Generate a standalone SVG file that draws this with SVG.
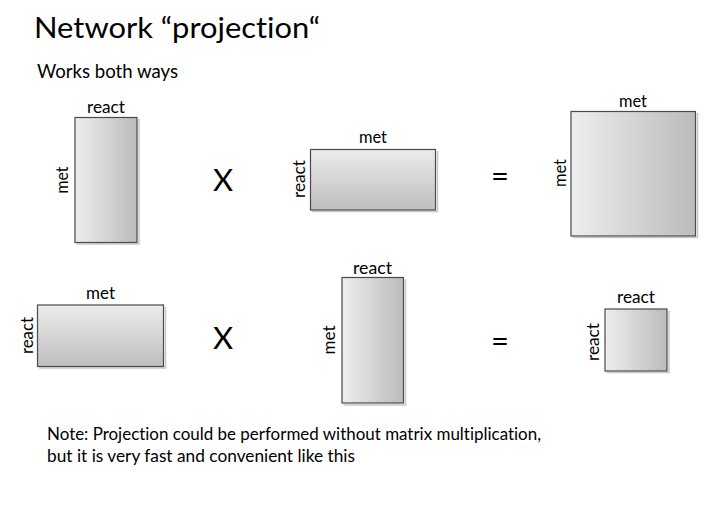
<svg xmlns="http://www.w3.org/2000/svg" width="725" height="513" viewBox="0 0 725 513">
<defs>
<linearGradient id="gh" x1="0" y1="0" x2="1" y2="0">
<stop offset="0" stop-color="#eeeeee"/>
<stop offset="1" stop-color="#bbbbbb"/>
</linearGradient>
<linearGradient id="gv" x1="0" y1="0" x2="0" y2="1">
<stop offset="0" stop-color="#ececec"/>
<stop offset="1" stop-color="#bebebe"/>
</linearGradient>
</defs>
<style>
text{font-family:Lato,"Open Sans","Liberation Sans",sans-serif;fill:#000;font-variant-ligatures:none;font-feature-settings:"liga" 0,"dlig" 0}
.lbl{font-size:17.5px}
.op{font-size:31px}
.m{stroke:#4a4a4a;stroke-width:1.2}
.sh{fill:none;stroke:#c8c8c8;stroke-width:1.5}
</style>
<rect width="725" height="513" fill="#fff"/>
<text x="34" y="38" font-size="29.5" textLength="286" lengthAdjust="spacingAndGlyphs">Network “projection“</text>
<text x="37" y="78" font-size="18.5" textLength="141" lengthAdjust="spacingAndGlyphs">Works both ways</text>

<g id="m1">
<path class="sh" d="M76.5 244 H139 V119"/>
<rect class="m" x="75" y="117.5" width="62" height="125" fill="url(#gh)"/>
<text class="lbl" x="106" y="113" text-anchor="middle" textLength="38" lengthAdjust="spacingAndGlyphs">react</text>
<text class="lbl" transform="translate(68,180) rotate(-90)" text-anchor="middle" textLength="27" lengthAdjust="spacingAndGlyphs">met</text>
</g>
<g id="op1"><text class="op" x="223" y="191" text-anchor="middle">X</text></g>
<g id="m2">
<path class="sh" d="M312 211.5 H437.5 V151"/>
<rect class="m" x="310.5" y="149.5" width="125" height="60.5" fill="url(#gv)"/>
<text class="lbl" x="373" y="143" text-anchor="middle" textLength="28" lengthAdjust="spacingAndGlyphs">met</text>
<text class="lbl" transform="translate(305,179) rotate(-90)" text-anchor="middle" textLength="38" lengthAdjust="spacingAndGlyphs">react</text>
</g>
<g id="eq1"><text class="op" x="500" y="187" text-anchor="middle">=</text></g>
<g id="m3">
<path class="sh" d="M572.5 237.5 H697.5 V113"/>
<rect class="m" x="571" y="111.5" width="124.5" height="124.5" fill="url(#gh)"/>
<text class="lbl" x="633" y="106.5" text-anchor="middle" textLength="28" lengthAdjust="spacingAndGlyphs">met</text>
<text class="lbl" transform="translate(566,173) rotate(-90)" text-anchor="middle" textLength="28" lengthAdjust="spacingAndGlyphs">met</text>
</g>

<g id="m4">
<path class="sh" d="M39 368 H165.5 V307"/>
<rect class="m" x="37.5" y="305" width="126" height="61.5" fill="url(#gv)"/>
<text class="lbl" x="100.5" y="299" text-anchor="middle" textLength="29" lengthAdjust="spacingAndGlyphs">met</text>
<text class="lbl" transform="translate(33,335.5) rotate(-90)" text-anchor="middle" textLength="37" lengthAdjust="spacingAndGlyphs">react</text>
</g>
<g id="op2"><text class="op" x="223" y="349" text-anchor="middle">X</text></g>
<g id="m5">
<path class="sh" d="M343.5 405 H405.5 V279.5"/>
<rect class="m" x="342" y="277.5" width="61.5" height="125.5" fill="url(#gh)"/>
<text class="lbl" x="372.5" y="274" text-anchor="middle" textLength="39" lengthAdjust="spacingAndGlyphs">react</text>
<text class="lbl" transform="translate(335,340) rotate(-90)" text-anchor="middle" textLength="29" lengthAdjust="spacingAndGlyphs">met</text>
</g>
<g id="eq2"><text class="op" x="500" y="352" text-anchor="middle">=</text></g>
<g id="m6">
<path class="sh" d="M606.5 372.5 H669 V311"/>
<rect class="m" x="605" y="309" width="62" height="62" fill="url(#gh)"/>
<text class="lbl" x="636" y="303" text-anchor="middle" textLength="38" lengthAdjust="spacingAndGlyphs">react</text>
<text class="lbl" transform="translate(599,342) rotate(-90)" text-anchor="middle" textLength="38" lengthAdjust="spacingAndGlyphs">react</text>
</g>

<text x="47" y="440" font-size="17.5" textLength="494" lengthAdjust="spacingAndGlyphs">Note: Projection could be performed without matrix multiplication,</text>
<text x="47" y="462" font-size="17.5" textLength="308" lengthAdjust="spacingAndGlyphs">but it is very fast and convenient like this</text>
</svg>
